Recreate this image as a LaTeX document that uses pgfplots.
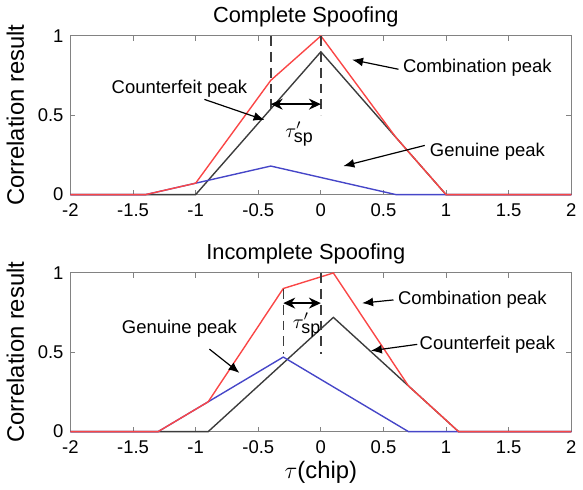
\documentclass[border=0pt]{standalone}
\usepackage{fontspec}
\setmainfont{Liberation Sans}
\usepackage{pgfplots}
\pgfplotsset{compat=1.18}
\usetikzlibrary{arrows.meta}
\definecolor{redl}{RGB}{250,70,70}
\definecolor{bluel}{RGB}{70,70,200}
\definecolor{blk}{RGB}{60,60,60}
\definecolor{axgray}{RGB}{130,130,130}
\definecolor{dashc}{RGB}{60,60,60}
\tikzset{
  annot/.style={font=\fontsize{9.3}{11}\selectfont},
  arr/.style={-{Latex[length=5.5pt,width=4.5pt]}, line width=0.6pt, black},
  darr/.style={{Stealth[length=6pt,width=5.5pt]}-{Stealth[length=6pt,width=5.5pt]}, line width=0.9pt, black},
  dsh/.style={dashc, line width=0.75pt, dash pattern=on 5pt off 3pt},
}
\pgfplotsset{myax/.style={
  scale only axis, width=252.5pt, height=80pt,
  xmin=-2, xmax=2, ymin=0, ymax=1,
  xtick={-2,-1.5,-1,-0.5,0,0.5,1,1.5,2},
  xticklabels={-2,-1.5,-1,-0.5,0,0.5,1,1.5,2},
  ytick={0,0.5,1}, yticklabels={0,0.5,1},
  tick align=inside, tick pos=both, ticklabel pos=left,
  axis line style={axgray, line width=0.5pt},
  major tick length=2.5pt,
  tick style={axgray, line width=0.5pt},
  ticklabel style={font=\fontsize{9.3}{10}\selectfont},
  xticklabel style={yshift=-1pt},
  every axis y label/.style={at={(axis description cs:-0.11,0.5)}, rotate=90, anchor=center},
  ylabel={Correlation result},
  ylabel style={font=\fontsize{12}{14}\selectfont},
  every axis title/.style={at={(axis description cs:0.47,1)}, anchor=south, yshift=1pt},
  title style={font=\fontsize{11}{13}\selectfont},
  clip=false,
}}
\begin{document}
\begin{tikzpicture}
\begin{axis}[myax, at={(0,0)}, anchor=south west, title={Complete Spoofing}]
\addplot[blk, line width=0.7pt] coordinates {(-2,0)(-1,0)(0,0.9)(1,0)(2,0)};
\addplot[bluel, line width=0.7pt] coordinates {(-2,0)(-1.4,0)(-0.4,0.18)(0.6,0)(2,0)};
\addplot[redl, line width=0.7pt] coordinates {(-2,0)(-1.4,0)(-1,0.072)(-0.4,0.72)(0,1)(0.6,0.36)(1,0)(2,0)};
\draw[dsh] (axis cs:-0.4,1) -- (axis cs:-0.4,0.52);
\draw[dsh] (axis cs:0,1) -- (axis cs:0,0.5);
\draw[darr] (axis cs:-0.4,0.57) -- (axis cs:0,0.57);
\node at (axis cs:-0.17,0.38) {\fontsize{10}{12}\selectfont$\tau'_{\mbox{\fontsize{9}{10}\selectfont sp}}$};
\node[annot] at (axis cs:-1.13,0.67) {Counterfeit peak};
\draw[arr] (axis cs:-0.93,0.60) -- (axis cs:-0.45,0.47);
\node[annot] at (axis cs:1.25,0.80) {Combination peak};
\draw[arr] (axis cs:0.62,0.79) -- (axis cs:0.25,0.85);
\node[annot] at (axis cs:1.33,0.27) {Genuine peak};
\draw[arr] (axis cs:0.83,0.31) -- (axis cs:0.18,0.18);
\end{axis}
\begin{axis}[myax, at={(0,-119.5pt)}, anchor=south west, title={Incomplete Spoofing},
  every axis x label/.style={at={(axis description cs:0.5,-0.256)}, anchor=center},
  xlabel={$\tau$(chip)}, xlabel style={font=\fontsize{12}{14}\selectfont}]
\addplot[blk, line width=0.7pt] coordinates {(-2,0)(-0.9,0)(0.1,0.72)(1.1,0)(2,0)};
\addplot[bluel, line width=0.7pt] coordinates {(-2,0)(-1.3,0)(-0.3,0.47)(0.7,0)(2,0)};
\addplot[redl, line width=0.7pt] coordinates {(-2,0)(-1.3,0)(-0.9,0.188)(-0.3,0.902)(0.1,1.0)(0.7,0.288)(1.1,0)(2,0)};
\draw[dsh] (axis cs:-0.3,0.9) -- (axis cs:-0.3,0.49);
\draw[dsh] (axis cs:0,1) -- (axis cs:0,0.49);
\draw[darr] (axis cs:-0.3,0.81) -- (axis cs:0,0.81);
\node at (axis cs:-0.11,0.67) {\fontsize{10}{12}\selectfont$\tau'_{\mbox{\fontsize{9}{10}\selectfont sp}}$};
\node[annot] at (axis cs:-1.13,0.65) {Genuine peak};
\draw[arr] (axis cs:-0.89,0.52) -- (axis cs:-0.65,0.37);
\node[annot] at (axis cs:1.21,0.83) {Combination peak};
\draw[arr] (axis cs:0.58,0.83) -- (axis cs:0.33,0.81);
\node[annot] at (axis cs:1.33,0.55) {Counterfeit peak};
\draw[arr] (axis cs:0.77,0.55) -- (axis cs:0.40,0.51);
\end{axis}
\end{tikzpicture}
\end{document}
